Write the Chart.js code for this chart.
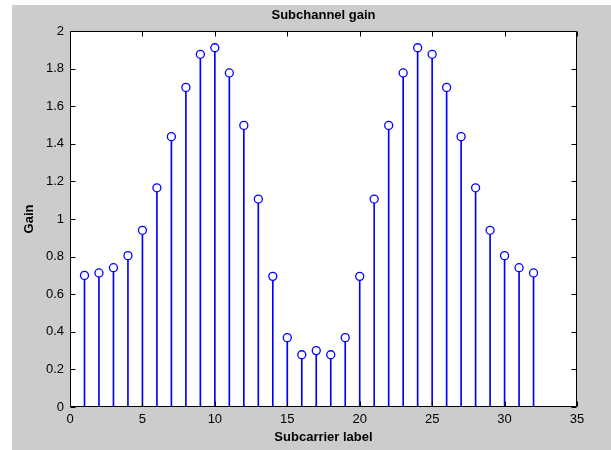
<!DOCTYPE html>
<html lang="en">
<head>
  <meta charset="UTF-8">
  <title>Subchannel gain</title>
  <script src="https://cdn.jsdelivr.net/npm/chart.js"></script>
  <style>
    body {
      margin: 0;
      background: #ffffff;
    }
    .figure {
      position: absolute;
      left: 12px;
      top: 5px;
      width: 599px;
      height: 445px;
      background: #cccccc;
    }
  </style>
</head>
<body>
  <div class="figure">
    <canvas id="graphique" width="599" height="445"></canvas>
  </div>

  <script>
    // subcarrier labels and gains
    const subcarriers = [1, 2, 3, 4, 5, 6, 7, 8, 9, 10, 11, 12, 13, 14, 15, 16,
                         17, 18, 19, 20, 21, 22, 23, 24, 25, 26, 27, 28, 29, 30, 31, 32];
    const gains = [0.700, 0.713, 0.741, 0.805, 0.940, 1.166, 1.438, 1.700,
                   1.876, 1.911, 1.777, 1.498, 1.106, 0.695, 0.369, 0.278,
                   0.300, 0.278, 0.369, 0.695, 1.106, 1.498, 1.777, 1.911,
                   1.876, 1.700, 1.438, 1.166, 0.940, 0.805, 0.741, 0.713];
    const xTicks = [0, 5, 10, 15, 20, 25, 30, 35];
    const yTicks = [0, 0.2, 0.4, 0.6, 0.8, 1, 1.2, 1.4, 1.6, 1.8, 2];

    const points = subcarriers.map((x, i) => ({ x: x, y: gains[i] }));
    const police = "'Liberation Sans', Arial, Helvetica, sans-serif";

    // axes box with inward tick marks, like matlab
    const cadre = {
      id: 'cadre',
      afterDraw(chart) {
        const { ctx, chartArea: a, scales } = chart;
        const l = Math.round(a.left) + 0.5, r = Math.round(a.right) - 0.5;
        const t = Math.round(a.top) + 0.5, b = Math.round(a.bottom) - 0.5;
        const len = 5;
        ctx.save();
        ctx.strokeStyle = '#000';
        ctx.lineWidth = 1;
        ctx.beginPath();
        ctx.rect(l, t, r - l, b - t);
        xTicks.forEach(v => {
          const px = Math.round(scales.x.getPixelForValue(v)) + 0.5;
          ctx.moveTo(px, b); ctx.lineTo(px, b - len);
          ctx.moveTo(px, t); ctx.lineTo(px, t + len);
        });
        yTicks.forEach(v => {
          const py = Math.round(scales.y.getPixelForValue(v)) + 0.5;
          ctx.moveTo(l, py); ctx.lineTo(l + len, py);
          ctx.moveTo(r, py); ctx.lineTo(r - len, py);
        });
        ctx.stroke();
        ctx.restore();
      }
    };

    const fondBlanc = {
      id: 'fondBlanc',
      beforeDatasetsDraw(chart) {
        const { ctx, chartArea: a } = chart;
        ctx.save();
        ctx.fillStyle = '#ffffff';
        ctx.fillRect(a.left, a.top, a.right - a.left, a.bottom - a.top);
        ctx.restore();
      }
    };

    new Chart(document.getElementById('graphique'), {
      type: 'bar',
      data: {
        datasets: [
          {
            type: 'line',
            data: points,
            showLine: false,
            pointStyle: 'circle',
            pointRadius: 4,
            pointHoverRadius: 4,
            pointBorderWidth: 1.3,
            pointBorderColor: '#0000ff',
            pointBackgroundColor: '#ffffff',
            order: 1
          },
          {
            data: points,
            backgroundColor: '#0000ff',
            barThickness: 1,
            borderWidth: 0,
            order: 2
          }
        ]
      },
      options: {
        responsive: false,
        animation: false,
        layout: { padding: { left: 0, right: 34, top: 0, bottom: 0 } },
        plugins: {
          legend: { display: false },
          tooltip: { enabled: false }
        },
        scales: {
          x: {
            type: 'linear',
            min: 0,
            max: 35,
            offset: false,
            afterBuildTicks: s => { s.ticks = xTicks.map(v => ({ value: v })); },
            afterFit: s => { s.height = 43; },
            grid: { display: false, drawTicks: false },
            border: { display: false },
            ticks: {
              color: '#000',
              padding: 5,
              maxRotation: 0,
              autoSkip: false,
              font: { family: police, size: 13 },
              callback: v => String(v)
            },
            title: {
              display: true,
              text: 'Subcarrier label',
              color: '#000',
              font: { family: police, size: 13, weight: 'bold' },
              padding: { top: 0, bottom: 5 }
            }
          },
          // top axis only carries the title, centred over the plot box
          titre: {
            type: 'linear',
            position: 'top',
            axis: 'x',
            min: 0,
            max: 35,
            offset: false,
            afterFit: s => { s.height = 26; },
            grid: { display: false, drawTicks: false },
            border: { display: false },
            ticks: { display: false },
            title: {
              display: true,
              text: 'Subchannel gain',
              color: '#000',
              font: { family: police, size: 13, weight: 'bold' },
              padding: { top: 3, bottom: 0 }
            }
          },
          y: {
            min: 0,
            max: 2,
            afterBuildTicks: s => { s.ticks = yTicks.map(v => ({ value: v })); },
            afterFit: s => { s.width = 58; },
            grid: { display: false, drawTicks: false },
            border: { display: false },
            ticks: {
              color: '#000',
              padding: 6,
              autoSkip: false,
              font: { family: police, size: 13 },
              callback: v => String(v)
            },
            title: {
              display: true,
              text: 'Gain',
              color: '#000',
              font: { family: police, size: 13, weight: 'bold' },
              padding: { top: 10, bottom: 0 }
            }
          }
        }
      },
      plugins: [fondBlanc, cadre]
    });
  </script>
</body>
</html>
